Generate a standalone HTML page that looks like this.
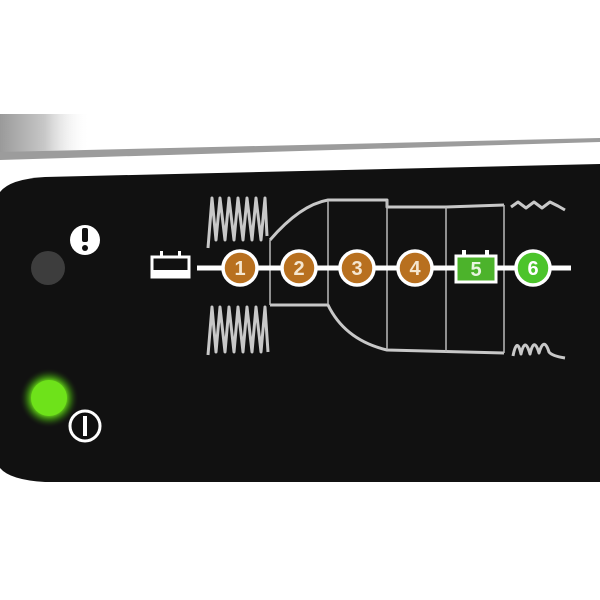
<!DOCTYPE html>
<html><head><meta charset="utf-8"><style>
html,body{margin:0;padding:0;background:#fff;}
svg{display:block;}
</style></head><body>
<svg width="600" height="600" viewBox="0 0 600 600" xmlns="http://www.w3.org/2000/svg">
<defs>
<linearGradient id="bar" x1="0" x2="1" y1="0" y2="0">
<stop offset="0" stop-color="#9a9a9a"/><stop offset="0.5" stop-color="#c8c8c8"/><stop offset="1" stop-color="#fff" stop-opacity="0"/>
</linearGradient>
<radialGradient id="glow"><stop offset="0.55" stop-color="#6ee21a"/><stop offset="0.75" stop-color="#3a8a10" stop-opacity="0.6"/><stop offset="1" stop-color="#111" stop-opacity="0"/></radialGradient>
</defs>
<rect width="600" height="600" fill="#fff"/>
<rect x="0" y="114" width="90" height="40" fill="url(#bar)"/>
<path d="M0 152 L600 138 L600 142 L0 160 Z" fill="#9c9c9c"/>
<path d="M0 192 Q10 179 45 177 L600 164 L600 482 L45 482 Q10 480 0 468 Z" fill="#111"/>
<circle cx="48" cy="268" r="17" fill="#3d3d3d"/>
<circle cx="85" cy="240" r="15" fill="#fff"/>
<rect x="82" y="228" width="6" height="14" rx="2" fill="#111"/>
<circle cx="85" cy="248" r="3" fill="#111"/>
<circle cx="49" cy="398" r="30" fill="url(#glow)"/>
<circle cx="49" cy="398" r="18" fill="#6ee21a"/>
<circle cx="85" cy="426" r="15" fill="#111" stroke="#fff" stroke-width="3"/>
<rect x="83" y="416" width="4" height="20" fill="#fff"/>
<g fill="none" stroke="#c8c8c8" stroke-width="3" stroke-linejoin="round">
<path d="M208 248 L212 198 L216 240 L220 198 L225 240 L229 198 L234 240 L238 198 L243 240 L247 198 L252 240 L256 198 L261 240 L265 198 L267 236"/>
<path d="M208 355 L212 307 L216 352 L220 307 L225 352 L229 307 L234 352 L238 307 L243 352 L247 307 L252 352 L256 307 L261 352 L265 307 L268 352"/>
<path d="M270 240 Q300 205 328 200 L387 200 L387 207 L446 207 L504 205"/>
<path d="M270 305 L328 305 Q345 340 387 350 L504 353"/>
<path d="M511 207 L518 202 L526 208 L534 202 L542 208 L550 202 L558 206 L565 210"/>
<path d="M513 356 Q517 336 521 354 Q525 336 530 354 Q534 336 539 353 Q544 336 549 352 Q552 356 565 358"/>
</g>
<g stroke="#bbb" stroke-width="1.5">
<line x1="270" y1="240" x2="270" y2="305"/>
<line x1="328" y1="200" x2="328" y2="305"/>
<line x1="387" y1="200" x2="387" y2="350"/>
<line x1="446" y1="207" x2="446" y2="352"/>
<line x1="504" y1="205" x2="504" y2="353"/>
</g>
<line x1="197" y1="268" x2="571" y2="268" stroke="#fff" stroke-width="5"/>
<rect x="152" y="257" width="37" height="20" fill="none" stroke="#fff" stroke-width="3"/>
<rect x="152" y="270" width="37" height="7" fill="#fff"/>
<rect x="160" y="251" width="3" height="6" fill="#fff"/><rect x="178" y="251" width="3" height="6" fill="#fff"/>
<g font-family="Liberation Sans, sans-serif" font-weight="bold" font-size="20" text-anchor="middle" fill="#f5e6cf">
<g stroke="#fff" stroke-width="3.5" fill="#b8701f">
<circle cx="240" cy="268" r="17"/><circle cx="299" cy="268" r="17"/><circle cx="357" cy="268" r="17"/><circle cx="415" cy="268" r="17"/>
</g>
<text x="240" y="275">1</text><text x="299" y="275">2</text><text x="357" y="275">3</text><text x="415" y="275">4</text>
<rect x="456" y="256" width="40" height="26" fill="#4cb32b" stroke="#fff" stroke-width="3"/>
<rect x="462" y="250" width="4" height="6" fill="#fff"/><rect x="485" y="250" width="4" height="6" fill="#fff"/>
<text x="476" y="276" fill="#e8f5df">5</text>
<circle cx="533" cy="268" r="17" fill="#4cc42b" stroke="#fff" stroke-width="3.5"/>
<text x="533" y="275" fill="#fff">6</text>
</g>
</svg>
</body></html>
